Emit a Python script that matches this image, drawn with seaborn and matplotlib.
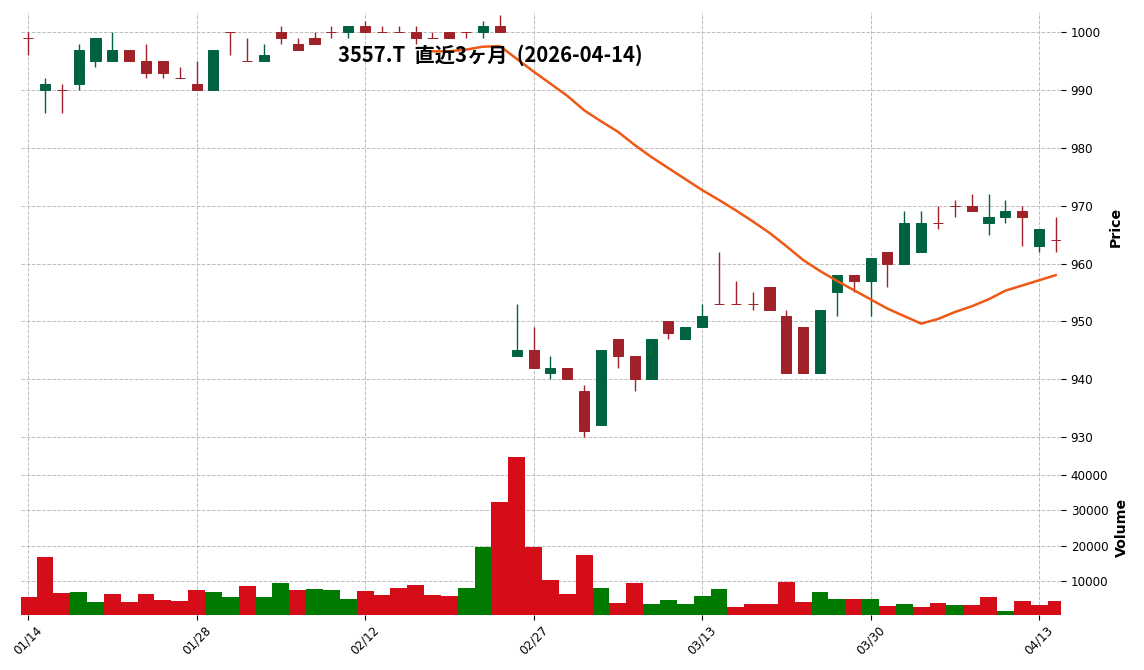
import numpy as np
import pandas as pd
import matplotlib
matplotlib.use("Agg")
import matplotlib.pyplot as plt
from matplotlib.ticker import MultipleLocator
import seaborn as sns

# ---------------- data ----------------
dates = ["01/14", "01/15", "01/16", "01/19", "01/20", "01/21", "01/22", "01/23", "01/26", "01/27",
         "01/28", "01/29", "01/30", "02/02", "02/03", "02/04", "02/05", "02/06", "02/09", "02/10",
         "02/12", "02/13", "02/16", "02/17", "02/18", "02/19", "02/20", "02/24", "02/25", "02/26",
         "02/27", "03/02", "03/03", "03/04", "03/05", "03/06", "03/09", "03/10", "03/11", "03/12",
         "03/13", "03/16", "03/17", "03/18", "03/19", "03/23", "03/24", "03/25", "03/26", "03/27",
         "03/30", "03/31", "04/01", "04/02", "04/03", "04/06", "04/07", "04/08", "04/09", "04/10",
         "04/13", "04/14"]

opens = [999, 990, 990, 991, 995, 995, 997, 995, 995, 992,
         991, 990, 1000, 995, 995, 1000, 998, 999, 1000, 1000,
         1001, 1000, 1000, 1000, 999, 1000, 1000, 1000, 1001, 944,
         945, 941, 942, 938, 932, 947, 944, 940, 950, 947,
         949, 953, 953, 953, 956, 951, 949, 941, 955, 958,
         957, 962, 960, 962, 967, 970, 970, 967, 968, 969,
         963, 964]
highs = [1000, 992, 991, 998, 999, 1000, 997, 998, 995, 994,
         995, 997, 1000, 999, 998, 1001, 999, 1000, 1001, 1001,
         1002, 1001, 1001, 1001, 1000, 1000, 1000, 1002, 1003, 953,
         949, 944, 942, 939, 945, 947, 944, 947, 950, 949,
         953, 962, 957, 955, 956, 952, 949, 952, 958, 958,
         961, 962, 969, 969, 970, 971, 972, 972, 971, 970,
         966, 968]
lows = [996, 986, 986, 990, 994, 995, 995, 992, 992, 992,
        990, 990, 996, 995, 995, 998, 997, 998, 999, 999,
        1000, 1000, 1000, 998, 999, 999, 999, 999, 1000, 944,
        942, 940, 940, 930, 932, 942, 938, 940, 947, 947,
        949, 953, 953, 952, 952, 941, 941, 941, 951, 955,
        951, 956, 960, 962, 966, 968, 969, 965, 967, 963,
        962, 962]
closes = [999, 991, 990, 997, 999, 997, 995, 993, 993, 992,
          990, 997, 1000, 995, 996, 999, 997, 998, 1000, 1001,
          1000, 1000, 1000, 999, 999, 999, 1000, 1001, 1000, 945,
          942, 942, 940, 931, 945, 944, 940, 947, 948, 949,
          951, 953, 953, 953, 952, 941, 941, 952, 958, 957,
          961, 960, 967, 967, 967, 970, 969, 968, 969, 968,
          966, 964]
volumes = [5240, 16670, 6380, 6670, 3810, 6100, 3810, 6100, 4380, 4100,
           7240, 6670, 5240, 8380, 5240, 9240, 7240, 7520, 7240, 4670,
           6950, 5810, 7810, 8670, 5810, 5520, 7810, 19520, 32380, 45240,
           19520, 10100, 6100, 17240, 7810, 3520, 9240, 3240, 4380, 3240,
           5520, 7520, 2380, 3240, 3240, 9520, 3810, 6670, 4670, 4670,
           4670, 2670, 3240, 2380, 3520, 2950, 2950, 5240, 1240, 4100,
           2950, 4100]
# 25-day moving average (starts at the 25th session)
ma_start = 24
ma25 = [996.7, 996.7, 997.0, 997.5, 997.6, 995.4, 993.2, 991.1, 989.0, 986.5,
        984.6, 982.8, 980.5, 978.4, 976.5, 974.6, 972.7, 971.0, 969.2, 967.3,
        965.3, 963.0, 960.6, 958.7, 957.0, 955.4, 953.8, 952.2, 950.9, 949.6,
        950.4, 951.6, 952.6, 953.8, 955.3, 956.2, 957.1, 958.0]
title = "3557.T  直近3ヶ月  (2026-04-14)"

# ---------------- style ----------------
sns.set_theme(style="white")
plt.rcParams["font.family"] = ["DejaVu Sans"]

UP, DN = "#006340", "#a02128"
VUP, VDN = "#007a00", "#d50d18"
MAC = "#ef5714"
GRID = "#bdbdbd"

idx = np.arange(len(closes))
o = np.array(opens, float); c = np.array(closes, float)
h = np.array(highs, float); l = np.array(lows, float)
ccol = [UP if cc > oo else DN for oo, cc in zip(o, c)]
prev = np.concatenate([[o[0]], c[:-1]])
vdir = ["up" if cc > pp else "down" for cc, pp in zip(c, prev)]

W, H = 1144, 670
fig = plt.figure(figsize=(W / 100, H / 100), dpi=100)
L, R = 21 / W, 1061 / W
ax = fig.add_axes([L, 1 - 441 / H, R - L, (441 - 12) / H])
axv = fig.add_axes([L, 1 - 614.5 / H, R - L, (614.5 - 441) / H])

# candles
ax.vlines(idx, l, h, colors=ccol, linewidth=1.0, zorder=2)
ax.bar(idx, np.abs(c - o), bottom=np.minimum(o, c), width=0.6, color=ccol,
       edgecolor=ccol, linewidth=0.7, zorder=3)
# moving average
ma_x = np.arange(ma_start, ma_start + len(ma25))
sns.lineplot(x=ma_x, y=ma25, ax=ax, color=MAC, linewidth=1.8, zorder=4)

# volume
vdf = pd.DataFrame({"i": idx, "vol": volumes, "dir": vdir})
sns.barplot(data=vdf, x="i", y="vol", hue="dir", palette={"up": VUP, "down": VDN},
            dodge=False, width=1.0, saturation=1, legend=False, errorbar=None,
            native_scale=True, linewidth=0, ax=axv)

xt = idx[::10]
for a in (ax, axv):
    a.set_xlim(-0.42, 61.3)
    a.set_xticks(xt)
    a.grid(True, linestyle="--", color=GRID, linewidth=0.7)
    a.set_axisbelow(True)
    for s in a.spines.values():
        s.set_visible(False)
    a.yaxis.tick_right()
    a.yaxis.set_label_position("right")
    a.tick_params(axis="y", which="both", right=True, left=False, length=3.5, width=0.8,
                  color="black", labelsize=8.6, pad=3.5, labelcolor="black")

ax.set_ylim(929.3, 1003.5)
ax.yaxis.set_major_locator(MultipleLocator(10))
ax.tick_params(axis="x", length=0, labelbottom=False)
ax.set_xlabel("")
ax.set_ylabel("Price", fontsize=10.2, fontweight="bold", labelpad=6, color="black")

axv.set_ylim(0.3 * min(volumes), 1.1 * max(volumes))
axv.yaxis.set_major_locator(MultipleLocator(10000))
axv.set_xticklabels([dates[i] for i in xt], rotation=45, fontsize=8.6, color="black")
axv.tick_params(axis="x", bottom=True, length=3.5, width=0.8, color="black", pad=3)
axv.set_xlabel("")
axv.set_ylabel("Volume", fontsize=10.2, fontweight="bold", labelpad=5, color="black")

fig.text(490 / W, 1 - 55 / H, title, ha="center", va="center", fontsize=14.6,
         fontweight="bold", family=["Noto Sans CJK JP", "DejaVu Sans"], color="black")

fig.savefig("out.png", dpi=100, facecolor="white")
